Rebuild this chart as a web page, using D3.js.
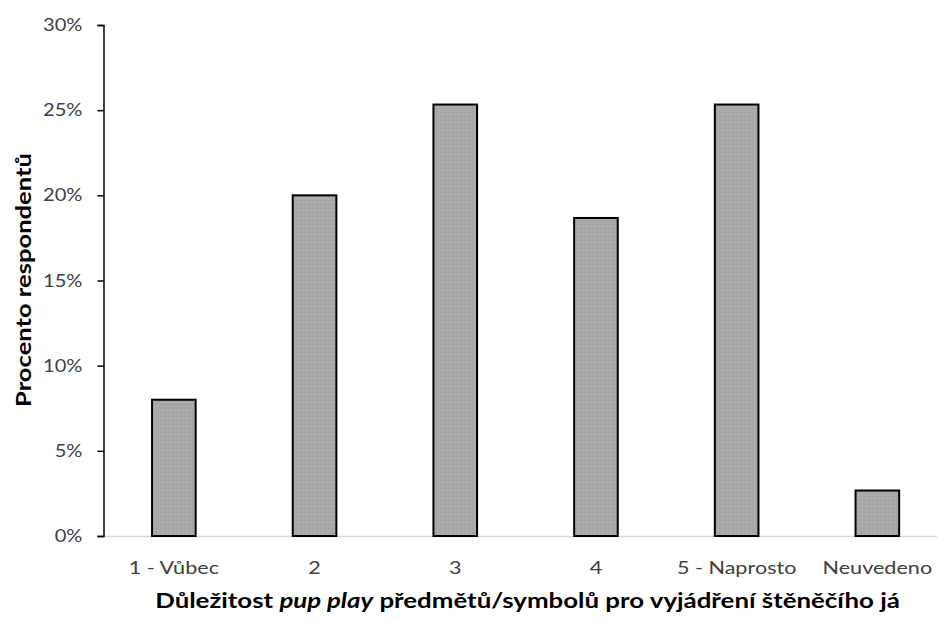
<!DOCTYPE html>
<html><head><meta charset="utf-8">
<script src="https://cdn.jsdelivr.net/npm/d3@7"></script>
<style>body{margin:0;background:#fff}svg{display:block}</style>
</head><body>
<svg id="c" width="937" height="621"></svg>
<script>
const categories = ["1 - Vůbec", "2", "3", "4", "5 - Naprosto", "Neuvedeno"];
const values = [8.0, 20.0, 25.33, 18.67, 25.33, 2.67];
const yTicks = [0, 5, 10, 15, 20, 25, 30];
const yTitle = "Procento respondentů";

const svg = d3.select("#c");
const font = "Lato, 'Open Sans', sans-serif";
const AX = 103.5;
const x = d3.scaleBand().domain(categories).range([AX, AX + 6 * 140.7]).paddingInner(0.69).paddingOuter(0.345);
const y = d3.scaleLinear().domain([0, 30]).range([536, 25]);

const defs = svg.append("defs");
const pat = defs.append("pattern").attr("id","tex").attr("width",4).attr("height",4).attr("patternUnits","userSpaceOnUse");
pat.append("rect").attr("width",4).attr("height",4).attr("fill","#a9a9a9");
pat.append("rect").attr("x",0).attr("y",0).attr("width",1).attr("height",1).attr("fill","#9c9c9c");
pat.append("rect").attr("x",2).attr("y",2).attr("width",1).attr("height",1).attr("fill","#b4b4b4");

// x axis baseline (light gray)
svg.append("line").attr("x1",AX).attr("x2",937).attr("y1",y(0)+0.5).attr("y2",y(0)+0.5)
  .attr("stroke","#d9d9d9").attr("stroke-width",1.5);

// bars
svg.append("g").selectAll("rect").data(values).join("rect")
  .attr("x",(d,i)=>x(categories[i]))
  .attr("y",d=>y(d))
  .attr("width",x.bandwidth())
  .attr("height",d=>y(0)-y(d))
  .attr("fill","url(#tex)")
  .attr("stroke","#000").attr("stroke-width",2);

// y axis
const yAxis = d3.axisLeft(y).tickValues(yTicks).tickFormat(d=>d+"%").tickSize(6).tickPadding(0);
const gy = svg.append("g").attr("transform",`translate(${AX},0)`).call(yAxis);
gy.select(".domain").attr("stroke","#000").attr("stroke-width",1.5);
gy.selectAll(".tick line").attr("stroke","#000").attr("stroke-width",1.5);
gy.selectAll("text").attr("font-family",font).attr("font-size",17.5).attr("fill","#404040")
  .attr("x",0).attr("transform","translate(-21,0) scale(1.15,1)");

// x axis labels
const xAxis = d3.axisBottom(x).tickSize(0).tickPadding(25);
const gx = svg.append("g").attr("transform",`translate(0,${y(0)})`).call(xAxis);
gx.select(".domain").remove();
gx.selectAll("text").attr("font-family",font).attr("font-size",18).attr("fill","#404040")
  .attr("transform","scale(1.2,1)");

// x title
const xtG = svg.append("g");
const xt = xtG.append("text").attr("x",0).attr("y",0).attr("text-anchor","middle")
  .attr("font-family",font).attr("font-size",20).attr("font-weight","bold").attr("fill","#000");
xt.append("tspan").text("Důležitost ");
xt.append("tspan").attr("font-style","italic").text("pup play");
xt.append("tspan").text(" předmětů/symbolů pro vyjádření štěněčího já");
const xw = xt.node().getBBox().width;
xtG.attr("transform",`translate(527.5,608) scale(${745/xw},1)`);

// y title
const ytG = svg.append("g");
const yt = ytG.append("text").attr("x",0).attr("y",0).attr("text-anchor","middle")
  .attr("font-family",font).attr("font-size",20).attr("font-weight","bold").attr("fill","#000")
  .text(yTitle);
const yw = yt.node().getBBox().width;
ytG.attr("transform",`translate(31,280) rotate(-90) scale(${254/yw},1)`);
</script>
</body></html>
